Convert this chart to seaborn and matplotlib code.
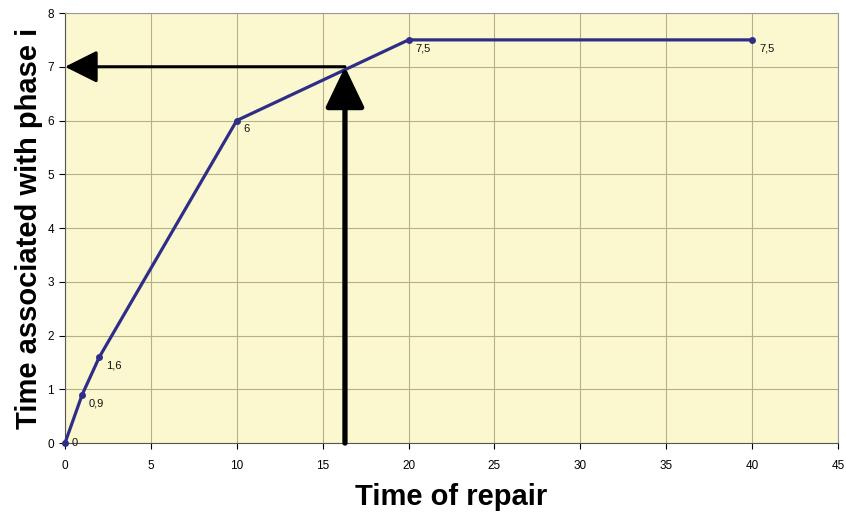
import matplotlib
matplotlib.use('Agg')
import matplotlib.pyplot as plt
import seaborn as sns
import pandas as pd

# data
repair_time = [0, 1, 2, 10, 20, 40]
phase_time = [0, 0.9, 1.6, 6, 7.5, 7.5]
point_labels = ['0', '0,9', '1,6', '6', '7,5', '7,5']
read_x = 16.3
read_y = 7

df = pd.DataFrame({'repair': repair_time, 'phase': phase_time})

sns.set_style('white')
plt.rcParams['font.family'] = ['Liberation Sans', 'DejaVu Sans']

fig = plt.figure(figsize=(8.46, 5.14), dpi=100)
ax = fig.add_axes([0.0768, 0.138, 0.9137, 0.8367])
ax.set_facecolor('#FBF7CE')

sns.lineplot(data=df, x='repair', y='phase', ax=ax, color='#2E2E88',
             linewidth=2.3, marker='o', markersize=5, markeredgewidth=0,
             zorder=3, clip_on=False)

# value labels, the first one kept inside the plot like the original
label_offsets = [(5, 0), (5, -6), (5, -6), (5, -6), (5, -6), (5, -6)]
for xv, yv, lab, off in zip(repair_time, phase_time, point_labels, label_offsets):
    ax.annotate(lab, (xv, yv), xytext=off, textcoords='offset points',
                fontsize=8, color='#111111', va='center', ha='left')

# reading arrows
ax.annotate('', xy=(0, read_y), xytext=(read_x, read_y),
            arrowprops=dict(arrowstyle='-|>,head_length=2.0,head_width=1.0',
                            mutation_scale=10, color='black', lw=2.2,
                            shrinkA=0, shrinkB=0), zorder=4)
ax.annotate('', xy=(read_x, read_y), xytext=(read_x, 0),
            arrowprops=dict(arrowstyle='-|>,head_length=2.5,head_width=1.2',
                            mutation_scale=10, color='black', lw=3.8,
                            shrinkA=0, shrinkB=0), zorder=4)

ax.set_xlim(0, 45)
ax.set_ylim(0, 8)
ax.set_xticks(range(0, 46, 5))
ax.set_yticks(range(0, 9))
ax.grid(True, color='#B5B08A', linewidth=0.8)
ax.set_axisbelow(True)
ax.tick_params(labelsize=8.5, colors='black', length=4, direction='out')
ax.tick_params(axis='x', pad=8)
ax.tick_params(axis='y', pad=4)
ax.tick_params(axis='both', which='both', left=True, bottom=True)
for t in ax.get_xticklines() + ax.get_yticklines():
    t.set_color('#555555')

for side in ['left', 'bottom']:
    ax.spines[side].set_color('#555555')
for side in ['top', 'right']:
    ax.spines[side].set_color('#999999')

ax.set_xlabel('Time of repair', fontsize=21, fontweight='bold', labelpad=8, color='black')
ax.set_ylabel('Time associated with phase i', fontsize=21, fontweight='bold', labelpad=3, color='black')

fig.savefig('out.png', dpi=100)
